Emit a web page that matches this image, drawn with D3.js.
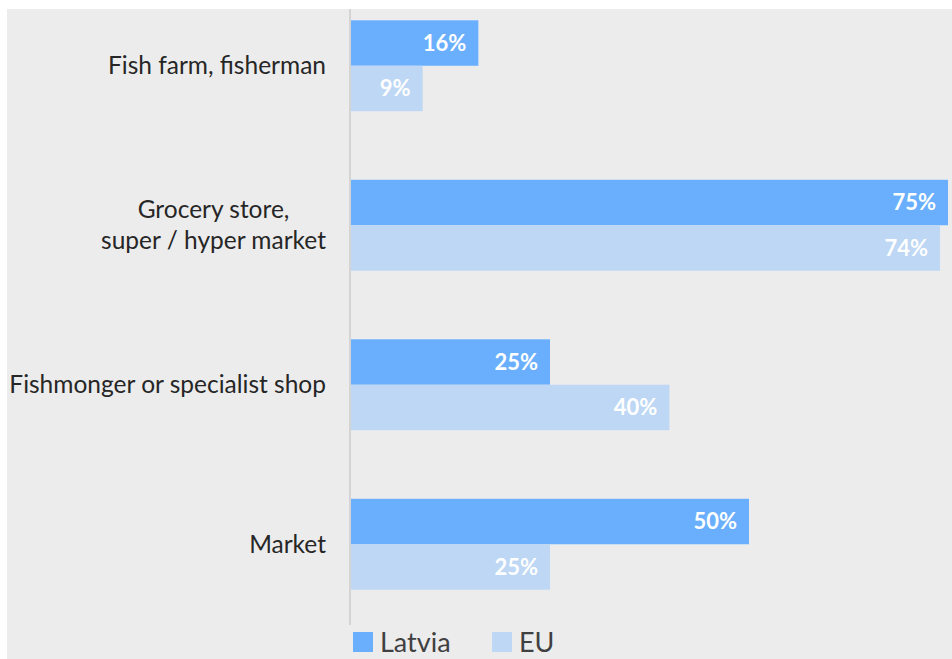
<!DOCTYPE html>
<html>
<head>
<meta charset="utf-8">
<script src="https://cdn.jsdelivr.net/npm/d3@7"></script>
<style>
  html, body { margin: 0; padding: 0; background: #ffffff; }
  svg { display: block; }
</style>
</head>
<body>
<svg id="chart" width="952" height="659"></svg>
<script>
// Where people buy fish: Latvia vs EU average (share of respondents, %)
const categories = [
  ["Fish farm, fisherman"],
  ["Grocery store,", "super / hyper market"],
  ["Fishmonger or specialist shop"],
  ["Market"]
];
const seriesNames = ["Latvia", "EU"];
const latviaValues = [16, 75, 25, 50];
const euValues = [9, 74, 40, 25];
const seriesColors = ["#6aaffe", "#bdd7f4"];

const W = 952, H = 659;
const FONT = "Lato, 'Open Sans', sans-serif";
const svg = d3.select("#chart");

// panel background
svg.append("rect").attr("x", 7).attr("y", 9).attr("width", W - 7).attr("height", H - 9)
  .attr("fill", "#ececec");

const catKeys = categories.map(c => c.join(" "));
const rows = catKeys.map((k, i) => ({
  key: k, lines: categories[i],
  values: [latviaValues[i], euValues[i]]
}));

const x = d3.scaleLinear().domain([0, 75]).range([351, 948]);
const y = d3.scaleBand().domain(catKeys).range([-14, 624])
  .paddingInner(0.43).paddingOuter(0.215);
const ySub = d3.scaleBand().domain(seriesNames).range([0, y.bandwidth()]);

const plot = svg.append("g");

const groups = plot.selectAll("g.cat").data(rows).join("g")
  .attr("class", "cat")
  .attr("transform", d => `translate(0,${y(d.key)})`);

const bars = groups.selectAll("g.bar")
  .data(d => d.values.map((v, j) => ({ v, s: seriesNames[j], j })))
  .join("g").attr("class", "bar");

bars.append("rect")
  .attr("x", x(0))
  .attr("y", d => ySub(d.s))
  .attr("width", d => x(d.v) - x(0))
  .attr("height", ySub.bandwidth())
  .attr("fill", d => seriesColors[d.j]);

bars.append("text")
  .attr("x", d => x(d.v) - 12)
  .attr("y", d => ySub(d.s) + ySub.bandwidth() / 2)
  .attr("dy", "0.36em")
  .attr("text-anchor", "end")
  .attr("fill", "#ffffff")
  .attr("font-family", FONT)
  .attr("font-weight", "bold")
  .attr("font-size", 22)
  .text(d => d.v + "%");

// vertical axis line
svg.append("line")
  .attr("x1", 350).attr("x2", 350)
  .attr("y1", 9).attr("y2", 625)
  .attr("stroke", "#d4d4d4").attr("stroke-width", 2);

// category labels, right-aligned block with centred lines
const labelRight = 326;
const lineGap = 31;
groups.each(function(d) {
  const g = d3.select(this);
  const cy = y.bandwidth() / 2;
  const n = d.lines.length;
  const t = g.append("text")
    .attr("font-family", FONT)
    .attr("font-size", 24.5)
    .attr("fill", "#262626");
  const spans = d.lines.map((ln, i) => t.append("tspan")
    .attr("y", cy + (i - (n - 1) / 2) * lineGap)
    .attr("dy", "0.35em")
    .text(ln));
  const widths = spans.map(s => s.node().getComputedTextLength());
  const maxW = d3.max(widths);
  if (n === 1) {
    t.attr("text-anchor", "end");
    spans[0].attr("x", labelRight);
  } else {
    t.attr("text-anchor", "middle");
    spans.forEach(s => s.attr("x", labelRight - maxW / 2));
  }
});

// legend
const legendX = [353, 492];
const legend = svg.append("g").selectAll("g").data(seriesNames).join("g")
  .attr("transform", (d, i) => `translate(${legendX[i]},632)`);
legend.append("rect").attr("width", 20).attr("height", 20)
  .attr("fill", (d, i) => seriesColors[i]);
legend.append("text")
  .attr("x", 27).attr("y", 10).attr("dy", "0.36em")
  .attr("font-family", FONT)
  .attr("font-size", 27)
  .attr("fill", "#404040")
  .text(d => d);
</script>
</body>
</html>
